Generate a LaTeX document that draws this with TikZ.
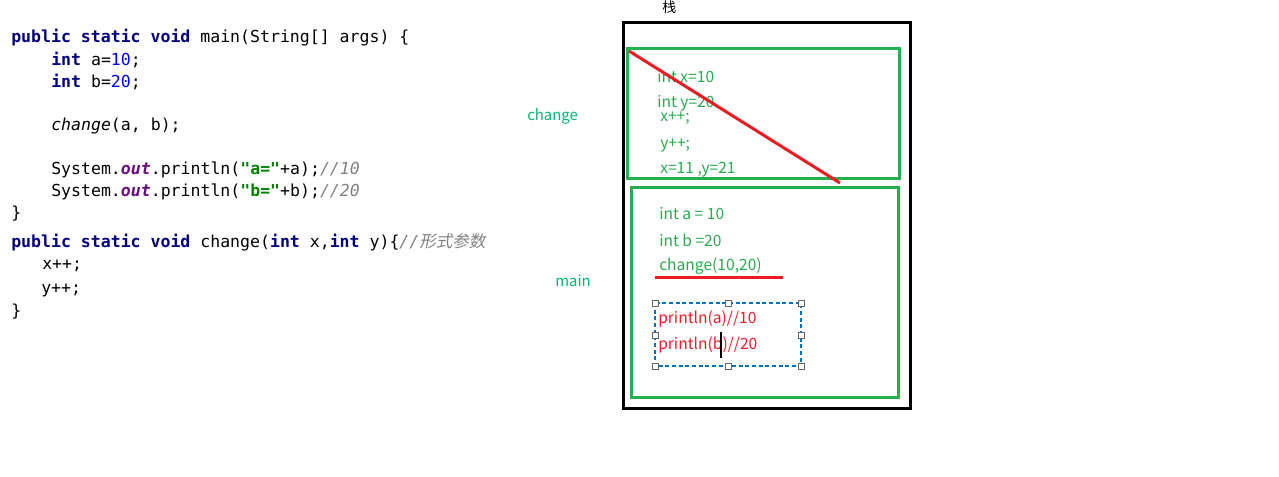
\documentclass[tikz,border=0pt]{standalone}
\usepackage{fontspec}
\setmonofont{DejaVu Sans Mono}
\newfontfamily\cjkfont{Noto Sans CJK SC}
\newfontfamily\cjkslant[FakeSlant=0.2]{Noto Sans CJK SC}
\usetikzlibrary{positioning}

\definecolor{kwblue}{RGB}{0,0,128}
\definecolor{numblue}{RGB}{0,0,255}
\definecolor{fieldpurple}{RGB}{102,14,122}
\definecolor{strgreen}{RGB}{0,128,0}
\definecolor{cmtgrey}{RGB}{128,128,128}
\definecolor{boxgreen}{RGB}{34,177,76}
\definecolor{txtgreen}{RGB}{40,170,80}
\definecolor{lblgreen}{RGB}{0,185,110}
\definecolor{markred}{RGB}{237,28,36}
\definecolor{selblue}{RGB}{0,114,198}

\newcommand{\javakw}[1]{\textcolor{kwblue}{\bfseries #1}}
\newcommand{\javanum}[1]{\textcolor{numblue}{#1}}
\newcommand{\javafield}[1]{\textcolor{fieldpurple}{\bfseries\itshape #1}}
\newcommand{\javastr}[1]{\textcolor{strgreen}{\bfseries #1}}
\newcommand{\javacmt}[1]{\textcolor{cmtgrey}{\itshape #1}}

\begin{document}
\begin{tikzpicture}[%
  x=0.75pt, y=-0.75pt,
  codeline/.style={anchor=west, inner sep=0pt,
    font=\ttfamily\fontsize{12.4}{14}\selectfont},
  stacktxt/.style={anchor=west, inner sep=0pt, text=txtgreen,
    font=\cjkfont\fontsize{11.7}{13}\selectfont},
  calltxt/.style={stacktxt, text=markred},
  framelbl/.style={anchor=west, inner sep=0pt, text=lblgreen,
    font=\cjkfont\fontsize{11.2}{13}\selectfont},
  handle/.style={draw=black!60, fill=white, line width=0.6pt,
    minimum size=4.5pt, inner sep=0pt},
]

  \useasboundingbox (0,0) rectangle (1279,477);

  % source code
  \node[codeline] (l1) at (11,38)
    {\javakw{public static void} main(String[] args) \{};
  \node[codeline] (l2) at (51,60) {\javakw{int} a=\javanum{10};};
  \node[codeline] (l3) at (51,82) {\javakw{int} b=\javanum{20};};
  \node[codeline] (l4) at (51,126) {\textit{change}(a, b);};
  \node[codeline] (l5) at (51,170)
    {System.\javafield{out}.println(\javastr{"a="}+a);\javacmt{//10}};
  \node[codeline] (l6) at (51,192)
    {System.\javafield{out}.println(\javastr{"b="}+b);\javacmt{//20}};
  \node[codeline] (l7) at (11,214) {\}};
  \node[codeline] (l8) at (11,242)
    {\javakw{public static void} change(\javakw{int} x,\javakw{int} y)\{%
     \javacmt{//}\textcolor{cmtgrey}{\cjkslant 形式参数}};
  \node[codeline] (l9) at (42,266) {x++;};
  \node[codeline] (l10) at (41,290) {y++;};
  \node[codeline] (l11) at (11,312) {\}};

  % stack
  \node[anchor=west, inner sep=0pt, font=\cjkfont\fontsize{10.5}{12}\selectfont]
    (stack) at (662,7) {栈};
  \draw[line width=2.25pt] (623,23) rectangle (910,409);

  \draw[boxgreen, line width=2.25pt] (627,49) rectangle (899,179);
  \draw[boxgreen, line width=2.25pt] (631,188) rectangle (898,398);

  \node[framelbl] (chg) at (527,116) {change};
  \node[framelbl] (mn) at (555,281) {main};

  % frame of change
  \node[stacktxt] (x0) at (657,77) {int x=10};
  \node[stacktxt] (y0) at (657,103) {int y=20};
  \node[stacktxt] (x1) at (660,118) {x++;};
  \node[stacktxt] (y1) at (660,145) {y++;};
  \node[stacktxt] (xy) at (660,170) {x=11 ,y=21};

  \coordinate (cutA) at (629,51);
  \coordinate (cutB) at (840,183);
  \draw[markred, line width=2.25pt] (cutA) -- (cutB);

  % frame of main
  \node[stacktxt] (a) at (659,214) {int a = 10};
  \node[stacktxt] (b) at (659,240) {int b =20};
  \node[stacktxt] (call) at (659,266) {change(10,20)};
  \coordinate (ulA) at (655,278);
  \coordinate (ulB) at (783,278);
  \draw[markred, line width=2.25pt] (ulA) -- (ulB);

  \draw[draw=selblue, line width=0.8pt, dash pattern=on 3pt off 2pt]
    (655,303) rectangle (801,366);
  \node[calltxt] (pa) at (658,319) {println(a)//10};
  \node[calltxt] (pb) at (658,345) {println(b)//20};
  \draw[line width=0.9pt] (721,332) -- (721,358);
  \foreach \hx/\hy [count=\i] in {655/303, 728/303, 801/303, 655/335,
      801/335, 655/366, 728/366, 801/366}
    \node[handle] (h\i) at (\hx,\hy) {};

\end{tikzpicture}
\end{document}
